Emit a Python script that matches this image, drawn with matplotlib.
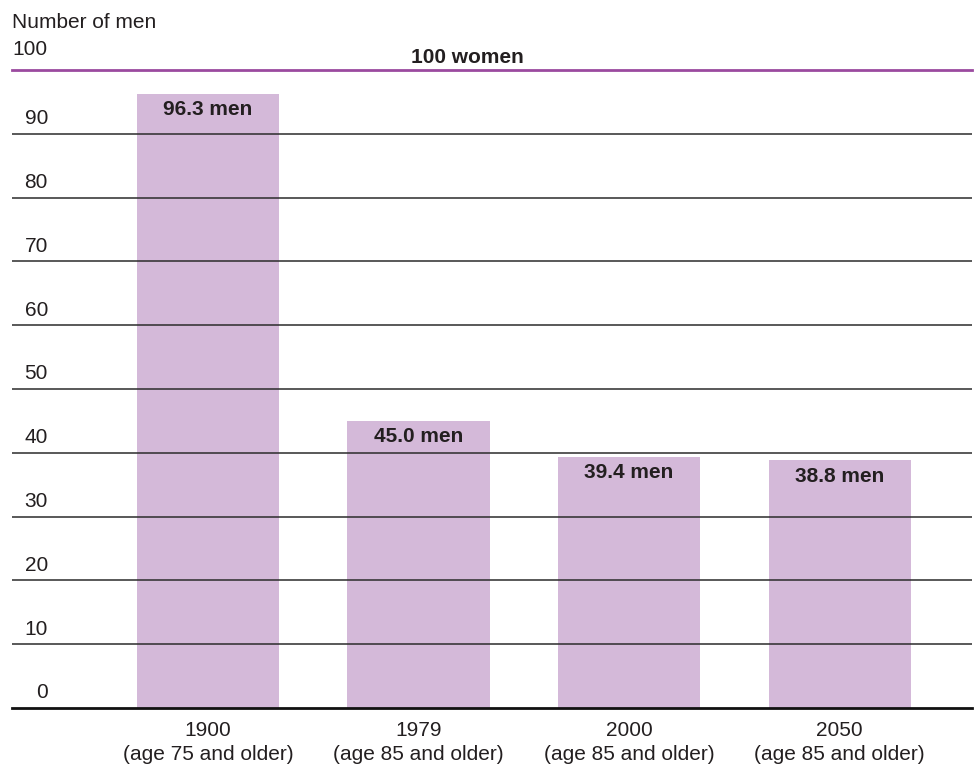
import matplotlib
matplotlib.use("Agg")
import matplotlib.pyplot as plt
from matplotlib.transforms import blended_transform_factory, offset_copy

plt.rcParams['font.family'] = ['Liberation Sans', 'DejaVu Sans']

years = ["1900", "1979", "2000", "2050"]
age_groups = ["(age 75 and older)", "(age 85 and older)", "(age 85 and older)", "(age 85 and older)"]
men_per_100_women = [96.3, 45.0, 39.4, 38.8]
y_ticks = [0, 10, 20, 30, 40, 50, 60, 70, 80, 90]

W, H = 976, 766
fig = plt.figure(figsize=(W / 100, H / 100), dpi=100)
ax = fig.add_axes([12 / W, 58 / H, 960 / W, 638 / H])

bar_color = "#D4B9D9"
grid_color = "#2b2b2b"
accent = "#9B4A9F"
text_color = "#231F20"

x = list(range(len(years)))
bars = ax.bar(x, men_per_100_women, width=0.675, color=bar_color, zorder=1)

ax.set_xlim(-0.93, 3.628)
ax.set_ylim(0, 100)

# horizontal rules drawn over the bars
for v in y_ticks[1:]:
    ax.axhline(v, color=grid_color, lw=1.1, zorder=3)
ax.axhline(0, color="#111111", lw=2.0, zorder=4, clip_on=False)
ax.axhline(100, color=accent, lw=2.0, zorder=4, clip_on=False)

for s in ax.spines.values():
    s.set_visible(False)
ax.set_yticks([])
ax.set_xticks(x)
ax.set_xticklabels([f"{y}\n{a}" for y, a in zip(years, age_groups)],
                   fontsize=15, color=text_color, linespacing=1.4)
ax.tick_params(axis="x", length=0, pad=9)

# y labels sit just above their rules, right-aligned
trans = blended_transform_factory(ax.transAxes, ax.transData)
lab_trans = offset_copy(trans, fig=fig, y=4, units="points")
for v in y_ticks:
    ax.text(36 / 960, v, str(v), transform=lab_trans, ha="right", va="bottom",
            fontsize=15, color=text_color)
ax.text(0, 100, "100", transform=offset_copy(trans, fig=fig, y=8, units="points"),
        ha="left", va="bottom", fontsize=15, color=text_color, clip_on=False)
fig.text(12 / W, 1 - 28 / H, "Number of men", ha="left", va="baseline",
         fontsize=15, color=text_color)
ax.text(1.23, 100, "100 women", transform=offset_copy(ax.transData, fig=fig, y=2, units="points"),
        ha="center", va="bottom", fontsize=15, fontweight="bold", color=text_color,
        clip_on=False)

# value labels inside the bar tops
val_trans = offset_copy(ax.transData, fig=fig, y=-4.5, units="points")
for xi, v in zip(x, men_per_100_women):
    ax.text(xi, v, f"{v:.1f} men", transform=val_trans, ha="center", va="top",
            fontsize=15, fontweight="bold", color=text_color, zorder=5)

fig.savefig("out.png", dpi=100, facecolor="white")
